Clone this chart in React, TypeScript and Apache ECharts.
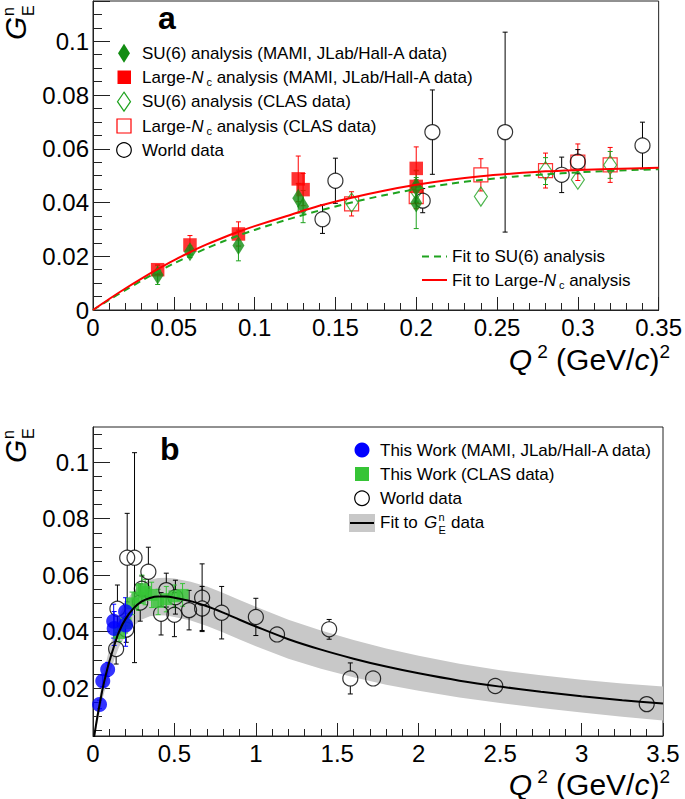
import React, { useEffect, useRef } from "react";
import * as echarts from "echarts";

const FONT = '"Liberation Sans", Arial, Helvetica, sans-serif';

// ---------------- Panel a : data points [Q2, GEn, error] ----------------
const su6MamiA = [
  [0.04, 0.013, 0.0035],
  [0.06, 0.0217, 0.0022],
  [0.09, 0.024, 0.0057],
  [0.127, 0.0416, 0.0055],
  [0.13, 0.0385, 0.006],
  [0.2, 0.0458, 0.006],
  [0.2, 0.0398, 0.0095],
];
const largeNcMamiA = [
  [0.04, 0.015, 0.0018],
  [0.06, 0.0242, 0.0035],
  [0.09, 0.0283, 0.0045],
  [0.127, 0.0488, 0.0085],
  [0.13, 0.0448, 0.006],
  [0.2, 0.0527, 0.008],
  [0.2, 0.046, 0.006],
];
const su6ClasA = [
  [0.16, 0.04, 0.003],
  [0.2, 0.0445, 0.004],
  [0.24, 0.0422, 0.003],
  [0.28, 0.0517, 0.005],
  [0.3, 0.0485, 0.0035],
  [0.32, 0.054, 0.005],
];
const largeNcClasA = [
  [0.16, 0.0395, 0.0045],
  [0.2, 0.0422, 0.0045],
  [0.24, 0.0503, 0.006],
  [0.28, 0.0519, 0.0065],
  [0.3, 0.055, 0.0068],
  [0.32, 0.054, 0.0065],
];
const worldA = [
  [0.142, 0.0338, 0.0053],
  [0.15, 0.0481, 0.0084],
  [0.204, 0.0407, 0.0045],
  [0.21, 0.0662, 0.0157],
  [0.255, 0.0662, 0.0372],
  [0.29, 0.0503, 0.0066],
  [0.3, 0.0552, 0.0045],
  [0.34, 0.0612, 0.0087],
];

// Panel a : fitted curves
const fitAX = [0, 0.01, 0.02, 0.03, 0.04, 0.05, 0.06, 0.07, 0.08, 0.09, 0.1, 0.12, 0.14, 0.16, 0.18, 0.2, 0.22, 0.24, 0.26, 0.28, 0.3, 0.32, 0.35];
const largeNcFit = [0, 0.0041, 0.008, 0.0117, 0.0152, 0.0185, 0.0215, 0.0243, 0.0268, 0.0291, 0.0312, 0.035, 0.0388, 0.0418, 0.0444, 0.0466, 0.0484, 0.0498, 0.0508, 0.0516, 0.0521, 0.0525, 0.0529];
const su6Fit = [0, 0.0038, 0.0074, 0.0109, 0.0142, 0.0173, 0.0202, 0.0229, 0.0254, 0.0277, 0.0298, 0.0336, 0.037, 0.04, 0.0427, 0.045, 0.0469, 0.0484, 0.0496, 0.0505, 0.0512, 0.0518, 0.0524];

// ---------------- Panel b : data points [Q2, GEn, error] ----------------
const thisWorkMamiB = [
  [0.04, 0.0142, 0.0015],
  [0.06, 0.0225, 0.002],
  [0.09, 0.0266, 0.0025],
  [0.127, 0.0437, 0.006],
  [0.13, 0.0411, 0.006],
  [0.2, 0.047, 0.005],
  [0.2, 0.0423, 0.0075],
];
const thisWorkClasB = [
  [0.16, 0.0395, 0.003],
  [0.2, 0.043, 0.0035],
  [0.24, 0.05, 0.004],
  [0.28, 0.052, 0.0045],
  [0.3, 0.055, 0.005],
  [0.32, 0.054, 0.0045],
  [0.36, 0.053, 0.0045],
  [0.4, 0.0505, 0.0045],
  [0.45, 0.0515, 0.0045],
  [0.5, 0.0525, 0.004],
  [0.55, 0.053, 0.004],
];
const worldB = [
  [0.142, 0.0338, 0.0053],
  [0.15, 0.0481, 0.0084],
  [0.204, 0.0407, 0.0045],
  [0.21, 0.0662, 0.0157],
  [0.255, 0.0662, 0.0372],
  [0.29, 0.0503, 0.0066],
  [0.3, 0.0552, 0.0045],
  [0.34, 0.0612, 0.0087],
  [0.418, 0.0463, 0.0075],
  [0.45, 0.0547, 0.006],
  [0.5, 0.046, 0.0078],
  [0.506, 0.0522, 0.006],
  [0.59, 0.0476, 0.007],
  [0.67, 0.052, 0.012],
  [0.67, 0.0482, 0.0078],
  [0.79, 0.0467, 0.0093],
  [1.0, 0.0452, 0.0066],
  [1.13, 0.039, 0.002],
  [1.45, 0.0408, 0.0035],
  [1.58, 0.0234, 0.0055],
  [1.72, 0.0234, 0.002],
  [2.47, 0.0207, 0.0025],
  [3.4, 0.0143, 0.0015],
];

// Panel b : fit with error band
const fitBX = [0, 0.02, 0.04, 0.06, 0.08, 0.1, 0.13, 0.16, 0.2, 0.25, 0.3, 0.35, 0.4, 0.45, 0.5, 0.6, 0.7, 0.8, 0.9, 1.0, 1.2, 1.4, 1.6, 1.8, 2.0, 2.25, 2.5, 2.75, 3.0, 3.25, 3.5];
const fitB = [0, 0.0075, 0.014, 0.02, 0.025, 0.0293, 0.035, 0.04, 0.0445, 0.0483, 0.0507, 0.0519, 0.0524, 0.0524, 0.052, 0.0508, 0.049, 0.0467, 0.0442, 0.0418, 0.0373, 0.0336, 0.0304, 0.0276, 0.0252, 0.0226, 0.0205, 0.0187, 0.0171, 0.0157, 0.0145];
const bandHiB = [0.001, 0.0095, 0.017, 0.0235, 0.029, 0.0338, 0.04, 0.0455, 0.0505, 0.0545, 0.0571, 0.0584, 0.059, 0.0591, 0.0588, 0.0577, 0.056, 0.0537, 0.0512, 0.0488, 0.0442, 0.0404, 0.037, 0.034, 0.0314, 0.0286, 0.0263, 0.0245, 0.0229, 0.0216, 0.0205];
const bandLoB = [-0.001, 0.0055, 0.011, 0.0165, 0.021, 0.0248, 0.03, 0.0345, 0.0385, 0.0421, 0.0443, 0.0454, 0.0458, 0.0457, 0.0452, 0.0439, 0.042, 0.0397, 0.0372, 0.0348, 0.0304, 0.0268, 0.0238, 0.0212, 0.019, 0.0166, 0.0147, 0.0129, 0.0113, 0.0098, 0.0085];

// Axis tick values for panel b y axis
const bMajorTicks = [0.02, 0.04, 0.06, 0.08, 0.1];
const bMinorTicks = [0.005, 0.01, 0.015, 0.025, 0.03, 0.035, 0.045, 0.05, 0.055, 0.065, 0.07, 0.075, 0.085, 0.09, 0.095, 0.105, 0.11];

const GREEN_F = "#128c12";
const GREEN_O = "#1fa31f";
const RED = "#ff0000";
const BLUE = "#0000ff";
const LGREEN = "#36c436";
const BAND = "#c8c8c8";
const AX = "#222";
const LEG_FS = 17;

function errorBars(color: string, gap: number, cap = 2.5) {
  return (params: any, api: any) => {
    const x = api.value(0);
    const y = api.value(1);
    const e = api.value(2);
    const c = api.coord([x, y]);
    const hi = api.coord([x, y + e]);
    const lo = api.coord([x, y - e]);
    const st = { stroke: color, lineWidth: 1 };
    const ch: any[] = [];
    if (c[1] - gap > hi[1]) {
      ch.push({ type: "line", shape: { x1: c[0], y1: c[1] - gap, x2: c[0], y2: hi[1] }, style: st });
      ch.push({ type: "line", shape: { x1: c[0] - cap, y1: hi[1], x2: c[0] + cap, y2: hi[1] }, style: st });
    }
    if (lo[1] > c[1] + gap) {
      ch.push({ type: "line", shape: { x1: c[0], y1: c[1] + gap, x2: c[0], y2: lo[1] }, style: st });
      ch.push({ type: "line", shape: { x1: c[0] - cap, y1: lo[1], x2: c[0] + cap, y2: lo[1] }, style: st });
    }
    return { type: "group", children: ch };
  };
}

const pairs = (xs: number[], ys: number[]) => xs.map((x, i) => [x, ys[i]]);

function txt(x: number, y: number, text: string, extra: any = {}) {
  return {
    type: "text",
    x,
    y,
    silent: true,
    style: {
      text,
      fill: "#000",
      fontFamily: FONT,
      fontSize: LEG_FS,
      textAlign: "left",
      textVerticalAlign: "middle",
      ...extra,
    },
  };
}

const legRich = {
  t: { fontSize: LEG_FS, lineHeight: 20, fontFamily: FONT },
  i: { fontSize: LEG_FS, lineHeight: 20, fontStyle: "italic", fontFamily: FONT },
  s: { fontSize: 11, lineHeight: 11, verticalAlign: "bottom", padding: [0, 0, 0, 3], fontFamily: FONT },
};

const titleRich = {
  q: { fontSize: 30, lineHeight: 34, fontStyle: "italic", fontFamily: FONT },
  t: { fontSize: 30, lineHeight: 34, fontFamily: FONT },
  s: { fontSize: 19, lineHeight: 19, verticalAlign: "top", fontFamily: FONT },
  s2: { fontSize: 19, lineHeight: 19, verticalAlign: "top", padding: [0, 0, 0, 5], fontFamily: FONT },
};

function diamond(cx: number, cy: number, w: number, h: number, style: any) {
  return {
    type: "polygon",
    silent: true,
    shape: { points: [[cx, cy - h / 2], [cx + w / 2, cy], [cx, cy + h / 2], [cx - w / 2, cy]] },
    style,
  };
}

function gLabel(x: number, y: number) {
  return {
    type: "group",
    x,
    y,
    rotation: Math.PI / 2,
    silent: true,
    children: [
      txt(0, 0, "G", { fontSize: 30, fontStyle: "italic", lineHeight: 24 }),
      txt(24, -7.5, "n", { fontSize: 16, lineHeight: 12 }),
      txt(24, 12.5, "E", { fontSize: 16, lineHeight: 12 }),
    ],
  };
}

function axisTitle(x: number, y: number) {
  return txt(x, y, "{q|Q}{s2|2}{t| (GeV/}{q|c}{t|)}{s|2}", {
    textAlign: "right",
    rich: titleRich,
    fontSize: 30,
  });
}

export default function App() {
  const ref = useRef<HTMLDivElement>(null);

  useEffect(() => {
    if (!ref.current) return;
    const chart = echarts.init(ref.current, null, { renderer: "svg", width: 685, height: 799 });

    const majorLabel = { fontSize: 24, color: "#000", fontFamily: FONT };
    const fmt = (v: number) => String(parseFloat(v.toFixed(3)));
    const xAxisCommon = (grid: number, max: number, interval: number) => ({
      type: "value",
      gridIndex: grid,
      min: 0,
      max,
      interval,
      axisLine: { show: true, lineStyle: { color: AX, width: 1 } },
      axisTick: { show: true, inside: true, length: 13, lineStyle: { color: AX } },
      minorTick: { show: true, splitNumber: 5, length: 7, lineStyle: { color: AX } },
      axisLabel: { ...majorLabel, margin: 5, formatter: fmt },
      splitLine: { show: false },
      minorSplitLine: { show: false },
    });

    const option: any = {
      animation: false,
      grid: [
        { left: 93, top: 1, width: 570, height: 309, show: true, borderColor: AX, borderWidth: 1, backgroundColor: "transparent" },
        { left: 93, top: 427, width: 570, height: 309, show: true, borderColor: AX, borderWidth: 1, backgroundColor: "transparent" },
      ],
      xAxis: [xAxisCommon(0, 0.35, 0.05), xAxisCommon(1, 3.5, 0.5)],
      yAxis: [
        {
          type: "value",
          gridIndex: 0,
          position: "left",
          min: 0,
          max: 0.115,
          interval: 0.02,
          axisLine: { show: true, lineStyle: { color: AX, width: 1 } },
          axisTick: { show: true, inside: true, length: 17, lineStyle: { color: AX } },
          minorTick: { show: true, splitNumber: 4, length: 9, lineStyle: { color: AX } },
          axisLabel: { ...majorLabel, margin: 4, showMaxLabel: false, formatter: fmt },
          splitLine: { show: false },
        },
        {
          type: "value",
          gridIndex: 1,
          position: "left",
          min: 0.003,
          max: 0.1125,
          axisLine: { show: true, lineStyle: { color: AX, width: 1 } },
          axisTick: { show: true, inside: true, length: 17, customValues: bMajorTicks, lineStyle: { color: AX } },
          axisLabel: { ...majorLabel, margin: 4, customValues: bMajorTicks, formatter: fmt },
          splitLine: { show: false },
        },
        {
          type: "value",
          gridIndex: 1,
          position: "left",
          min: 0.003,
          max: 0.1125,
          axisLine: { show: false },
          axisTick: { show: true, inside: true, length: 9, customValues: bMinorTicks, lineStyle: { color: AX } },
          axisLabel: { show: false },
          splitLine: { show: false },
        },
      ],
      series: [
        // ---------- panel a ----------
        {
          type: "line", name: "Fit to SU(6) analysis", xAxisIndex: 0, yAxisIndex: 0,
          data: pairs(fitAX, su6Fit), symbol: "none", smooth: 0.3, silent: true,
          lineStyle: { color: GREEN_O, width: 2, type: [7, 5] },
        },
        {
          type: "line", name: "Fit to Large-Nc analysis", xAxisIndex: 0, yAxisIndex: 0,
          data: pairs(fitAX, largeNcFit), symbol: "none", smooth: 0.3, silent: true,
          lineStyle: { color: RED, width: 2 },
        },
        { type: "custom", xAxisIndex: 0, yAxisIndex: 0, data: largeNcClasA, renderItem: errorBars(RED, 7), clip: true, silent: true },
        {
          type: "scatter", name: "Large-Nc analysis (CLAS data)", xAxisIndex: 0, yAxisIndex: 0, data: largeNcClasA,
          symbol: "rect", symbolSize: 14, silent: true,
          itemStyle: { color: "rgba(0,0,0,0)", borderColor: RED, borderWidth: 1.2 },
        },
        { type: "custom", xAxisIndex: 0, yAxisIndex: 0, data: su6ClasA, renderItem: errorBars(GREEN_O, 9.5), clip: true, silent: true },
        {
          type: "scatter", name: "SU(6) analysis (CLAS data)", xAxisIndex: 0, yAxisIndex: 0, data: su6ClasA,
          symbol: "diamond", symbolSize: [13, 19], silent: true,
          itemStyle: { color: "rgba(0,0,0,0)", borderColor: GREEN_O, borderWidth: 1.2 },
        },
        { type: "custom", xAxisIndex: 0, yAxisIndex: 0, data: worldA, renderItem: errorBars("#000", 7.5), clip: true, silent: true },
        {
          type: "scatter", name: "World data", xAxisIndex: 0, yAxisIndex: 0, data: worldA,
          symbol: "circle", symbolSize: 15, silent: true,
          itemStyle: { color: "rgba(0,0,0,0)", borderColor: "#000", borderWidth: 1.2 },
        },
        { type: "custom", xAxisIndex: 0, yAxisIndex: 0, data: largeNcMamiA, renderItem: errorBars(RED, 0), clip: true, silent: true },
        {
          type: "scatter", name: "Large-Nc analysis (MAMI, JLab/Hall-A data)", xAxisIndex: 0, yAxisIndex: 0, data: largeNcMamiA,
          symbol: "rect", symbolSize: 13.5, silent: true, itemStyle: { color: RED },
        },
        { type: "custom", xAxisIndex: 0, yAxisIndex: 0, data: su6MamiA, renderItem: errorBars(GREEN_O, 0), clip: true, silent: true },
        {
          type: "scatter", name: "SU(6) analysis (MAMI, JLab/Hall-A data)", xAxisIndex: 0, yAxisIndex: 0, data: su6MamiA,
          symbol: "diamond", symbolSize: [12, 19], silent: true, itemStyle: { color: GREEN_F },
        },
        // ---------- panel b ----------
        {
          type: "custom", xAxisIndex: 1, yAxisIndex: 1, data: pairs(fitBX, fitB), clip: true, silent: true,
          renderItem: (params: any, api: any) => {
            if (params.dataIndex !== 0) return null;
            const pts: number[][] = [];
            for (let i = 0; i < fitBX.length; i++) pts.push(api.coord([fitBX[i], bandHiB[i]]));
            for (let i = fitBX.length - 1; i >= 0; i--) pts.push(api.coord([fitBX[i], bandLoB[i]]));
            return { type: "polygon", shape: { points: pts }, style: { fill: BAND } };
          },
        },
        {
          type: "line", name: "Fit to GEn data", xAxisIndex: 1, yAxisIndex: 1,
          data: pairs(fitBX, fitB), symbol: "none", smooth: 0.3, silent: true,
          lineStyle: { color: "#000", width: 2 },
        },
        { type: "custom", xAxisIndex: 1, yAxisIndex: 1, data: worldB, renderItem: errorBars("#000", 7.5), clip: true, silent: true },
        {
          type: "scatter", name: "World data (b)", xAxisIndex: 1, yAxisIndex: 1, data: worldB,
          symbol: "circle", symbolSize: 15, silent: true,
          itemStyle: { color: "rgba(0,0,0,0)", borderColor: "#000", borderWidth: 1.2 },
        },
        { type: "custom", xAxisIndex: 1, yAxisIndex: 1, data: thisWorkClasB, renderItem: errorBars(LGREEN, 0), clip: true, silent: true },
        {
          type: "scatter", name: "This Work (CLAS data)", xAxisIndex: 1, yAxisIndex: 1, data: thisWorkClasB,
          symbol: "rect", symbolSize: 12, silent: true, itemStyle: { color: LGREEN },
        },
        { type: "custom", xAxisIndex: 1, yAxisIndex: 1, data: thisWorkMamiB, renderItem: errorBars(BLUE, 0), clip: true, silent: true },
        {
          type: "scatter", name: "This Work (MAMI, JLab/Hall-A data)", xAxisIndex: 1, yAxisIndex: 1, data: thisWorkMamiB,
          symbol: "circle", symbolSize: 15, silent: true, itemStyle: { color: BLUE },
        },
      ],
      graphic: [
        // panel labels
        txt(158, 18, "a", { fontSize: 32, fontWeight: "bold" }),
        txt(160, 449, "b", { fontSize: 32, fontWeight: "bold" }),
        // y titles
        gLabel(15.5, 40),
        gLabel(15.5, 463),
        // x titles
        axisTitle(670, 359),
        axisTitle(670, 784),
        // ---- panel a legend ----
        diamond(124, 53.3, 12, 19, { fill: GREEN_F }),
        txt(142, 53.3, "SU(6) analysis (MAMI, JLab/Hall-A data)"),
        { type: "rect", silent: true, shape: { x: 117.5, y: 70.5, width: 13.5, height: 13.5 }, style: { fill: RED } },
        txt(142, 77.3, "{t|Large-}{i|N}{s|c}{t| analysis (MAMI, JLab/Hall-A data)}", { rich: legRich }),
        diamond(124, 101.7, 13, 19, { fill: "none", stroke: GREEN_O, lineWidth: 1.2 }),
        txt(142, 101.7, "SU(6) analysis (CLAS data)"),
        { type: "rect", silent: true, shape: { x: 117, y: 119, width: 14, height: 14 }, style: { fill: "none", stroke: RED, lineWidth: 1.2 } },
        txt(142, 126, "{t|Large-}{i|N}{s|c}{t| analysis (CLAS data)}", { rich: legRich }),
        { type: "circle", silent: true, shape: { cx: 124, cy: 150, r: 7.3 }, style: { fill: "none", stroke: "#000", lineWidth: 1.2 } },
        txt(142, 150, "World data"),
        // fit legend
        { type: "line", silent: true, shape: { x1: 422, y1: 256.5, x2: 447, y2: 256.5 }, style: { stroke: GREEN_O, lineWidth: 2, lineDash: [7, 5] } },
        txt(452, 256.5, "Fit to SU(6) analysis"),
        { type: "line", silent: true, shape: { x1: 422, y1: 280, x2: 447, y2: 280 }, style: { stroke: RED, lineWidth: 2 } },
        txt(452, 280, "{t|Fit to Large-}{i|N}{s|c}{t| analysis}", { rich: legRich }),
        // ---- panel b legend ----
        { type: "circle", silent: true, shape: { cx: 362, cy: 450, r: 7.5 }, style: { fill: BLUE } },
        txt(380, 450, "This Work (MAMI, JLab/Hall-A data)"),
        { type: "rect", silent: true, shape: { x: 355, y: 467, width: 14, height: 14 }, style: { fill: LGREEN } },
        txt(380, 474, "This Work (CLAS data)"),
        { type: "circle", silent: true, shape: { cx: 362, cy: 498.3, r: 7.3 }, style: { fill: "none", stroke: "#000", lineWidth: 1.2 } },
        txt(380, 498.3, "World data"),
        { type: "rect", silent: true, shape: { x: 349, y: 514, width: 26, height: 18 }, style: { fill: BAND } },
        { type: "line", silent: true, shape: { x1: 350, y1: 523, x2: 374, y2: 523 }, style: { stroke: "#000", lineWidth: 2 } },
        txt(380, 522.7, "Fit to"),
        txt(424, 522.7, "G", { fontStyle: "italic" }),
        txt(438.5, 516.5, "n", { fontSize: 11 }),
        txt(438.5, 530, "E", { fontSize: 11 }),
        txt(451, 522.7, "data"),
      ],
    };

    chart.setOption(option);
    return () => chart.dispose();
  }, []);

  return <div ref={ref} style={{ position: "absolute", left: 0, top: 0, width: 685, height: 799 }} />;
}
